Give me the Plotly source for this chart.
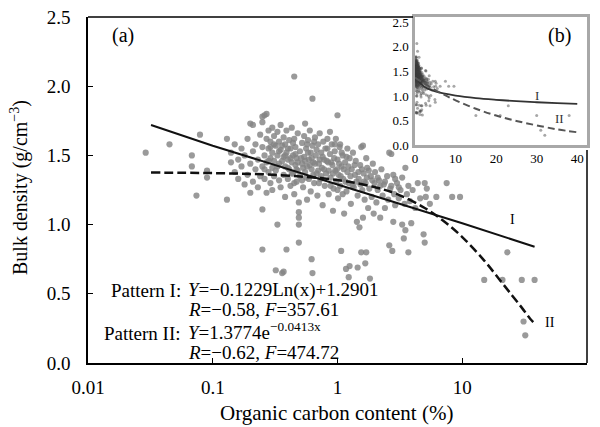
import plotly.graph_objects as go

# ---------------- data ----------------
# (organic carbon %, bulk density g/cm3)
left_pts = [(0.029, 1.52), (0.045, 1.58), (0.068, 1.50), (0.068, 1.42), (0.074, 1.21),
            (0.079, 1.65), (0.09, 1.39), (0.09, 1.34)]

cluster_a = [(0.13, 1.62), (0.13, 1.18), (0.14, 1.45), (0.14, 1.52), (0.15, 1.38), (0.15, 1.58),
             (0.16, 1.47), (0.16, 1.33), (0.17, 1.55), (0.17, 1.42), (0.18, 1.29), (0.18, 1.50),
             (0.19, 1.62), (0.19, 1.36), (0.2, 1.73), (0.2, 1.44), (0.2, 1.23), (0.21, 1.72),
             (0.21, 1.53), (0.21, 1.31), (0.22, 1.58), (0.22, 1.40), (0.23, 1.47), (0.23, 1.27),
             (0.24, 1.65), (0.24, 1.35)]

cluster_b = [(0.25, 1.78), (0.25, 1.74), (0.25, 1.56), (0.25, 1.42), (0.25, 1.11), (0.25, 0.82),
             (0.26, 1.79), (0.26, 1.50), (0.26, 1.33), (0.27, 1.80), (0.27, 1.62), (0.27, 1.45),
             (0.27, 1.23), (0.28, 1.68), (0.28, 1.55), (0.28, 1.38), (0.29, 1.60), (0.29, 1.48),
             (0.29, 1.30), (0.30, 1.70), (0.30, 1.52), (0.30, 1.41), (0.30, 1.25), (0.31, 1.64),
             (0.31, 1.46), (0.31, 1.35), (0.32, 1.57), (0.32, 1.39), (0.32, 0.67), (0.33, 1.67),
             (0.33, 1.50), (0.33, 1.00), (0.34, 1.60), (0.34, 1.44), (0.34, 1.32), (0.35, 1.72),
             (0.35, 1.54), (0.35, 1.27)]

cluster_c = [(0.36, 0.65), (0.37, 1.63), (0.37, 1.49), (0.37, 1.36), (0.37, 0.66), (0.38, 1.58),
             (0.38, 1.42), (0.38, 1.20), (0.39, 1.68), (0.39, 1.52), (0.39, 0.82), (0.40, 1.47),
             (0.40, 1.33), (0.41, 1.61), (0.41, 1.40), (0.42, 1.55), (0.42, 1.28), (0.43, 1.70),
             (0.43, 1.45), (0.44, 1.50), (0.44, 1.37), (0.45, 2.07), (0.45, 1.62), (0.45, 1.22),
             (0.46, 1.56), (0.46, 1.43), (0.47, 1.48), (0.47, 1.31), (0.48, 1.66), (0.48, 1.39),
             (0.49, 1.16), (0.49, 1.09), (0.49, 1.05), (0.49, 1.00), (0.49, 0.87), (0.50, 1.53),
             (0.50, 1.35)]

cluster_d = [(0.52, 1.59), (0.52, 1.44), (0.53, 1.27), (0.54, 1.64), (0.54, 1.49), (0.55, 1.73),
             (0.55, 1.38), (0.56, 1.55), (0.57, 1.42), (0.57, 1.18), (0.58, 1.61), (0.59, 1.47),
             (0.59, 1.33), (0.60, 1.68), (0.61, 1.52), (0.61, 1.24), (0.62, 1.40), (0.62, 0.75),
             (0.63, 1.91), (0.63, 1.57), (0.63, 0.65), (0.64, 1.45), (0.65, 1.30), (0.66, 1.63),
             (0.67, 1.50), (0.68, 1.37), (0.69, 1.21), (0.70, 1.58), (0.71, 1.44), (0.72, 1.66),
             (0.73, 1.33), (0.74, 1.52), (0.75, 1.41), (0.76, 1.14), (0.77, 1.60), (0.78, 1.47),
             (0.79, 1.28)]

cluster_e = [(0.80, 1.55), (0.81, 1.37), (0.83, 1.62), (0.84, 1.45), (0.85, 1.22), (0.87, 1.67),
             (0.87, 1.51), (0.88, 1.34), (0.90, 1.58), (0.91, 1.43), (0.92, 1.10), (0.93, 1.26),
             (0.95, 1.53), (0.96, 1.39), (0.97, 1.62), (0.98, 1.31), (1.00, 1.79), (1.00, 1.47),
             (1.01, 1.19), (1.02, 1.36), (1.04, 1.56), (1.05, 1.58), (1.05, 1.28), (1.07, 0.81),
             (1.08, 1.42), (1.10, 1.50), (1.11, 1.33), (1.13, 1.08), (1.15, 1.45), (1.17, 0.68),
             (1.18, 1.24), (1.20, 1.55), (1.20, 1.38)]

cluster_f = [(1.23, 0.62), (1.23, 1.30), (1.25, 0.70), (1.25, 1.48), (1.28, 1.15), (1.30, 1.40),
             (1.33, 1.52), (1.35, 1.27), (1.38, 1.36), (1.40, 1.46), (1.43, 1.02), (1.45, 0.69),
             (1.45, 1.21), (1.48, 1.33), (1.50, 0.98), (1.52, 1.43), (1.55, 0.80), (1.55, 1.56),
             (1.58, 1.25), (1.60, 1.05), (1.60, 1.57), (1.62, 1.37), (1.65, 1.18), (1.67, 0.72),
             (1.68, 1.30), (1.70, 0.80), (1.70, 1.48), (1.73, 1.41), (1.76, 1.12), (1.80, 1.26),
             (1.82, 0.61), (1.85, 1.35), (1.88, 1.20), (1.92, 1.44), (1.95, 1.08), (1.98, 1.30)]

cluster_g = [(2.0, 1.38), (2.05, 1.16), (2.1, 1.25), (2.15, 1.32), (2.2, 1.05), (2.25, 1.40),
             (2.3, 1.21), (2.35, 1.29), (2.4, 1.12), (2.5, 1.35), (2.55, 1.18), (2.6, 1.52),
             (2.6, 0.85), (2.65, 1.26), (2.7, 1.51), (2.75, 0.81), (2.8, 1.36), (2.8, 1.02),
             (2.85, 1.22), (2.9, 1.14), (3.0, 1.30), (3.1, 1.19), (3.2, 1.25), (3.3, 1.00),
             (3.3, 1.34), (3.4, 0.90), (3.45, 1.15), (3.5, 1.41), (3.5, 0.96)]

cluster_h = [(3.6, 1.22), (3.7, 1.28), (3.7, 0.80), (3.8, 1.17), (3.9, 1.01), (4.0, 1.25),
             (4.2, 1.12), (4.4, 1.30), (4.6, 1.19), (4.9, 0.93), (5.0, 1.30), (5.0, 0.87),
             (5.1, 1.20), (5.2, 1.26), (5.5, 1.15), (6.2, 1.20), (7.5, 1.30), (8.3, 1.20),
             (9.6, 1.20)]

far_pts = [(15, 0.60), (21, 0.60), (23, 0.80), (30, 0.60), (38, 0.60), (31, 0.30), (32, 0.20)]

core_pts = [(0.26, 1.40), (0.28, 1.46), (0.29, 1.56), (0.31, 1.58), (0.33, 1.42), (0.34, 1.53),
            (0.36, 1.46), (0.36, 1.57), (0.38, 1.50), (0.40, 1.55), (0.40, 1.41), (0.42, 1.48),
            (0.43, 1.37), (0.44, 1.59), (0.46, 1.51), (0.47, 1.40), (0.48, 1.45), (0.51, 1.48),
            (0.53, 1.41), (0.55, 1.46), (0.56, 1.34), (0.58, 1.52), (0.60, 1.43), (0.62, 1.48),
            (0.64, 1.36), (0.66, 1.44), (0.68, 1.54), (0.70, 1.39), (0.72, 1.47), (0.74, 1.35),
            (0.76, 1.49), (0.78, 1.40), (0.82, 1.46), (0.85, 1.39), (0.89, 1.45), (0.92, 1.37),
            (0.94, 1.48), (0.99, 1.40), (1.03, 1.44), (1.06, 1.35), (1.12, 1.40), (1.16, 1.31),
            (1.22, 1.42), (1.27, 1.35), (1.32, 1.28), (1.37, 1.43), (1.42, 1.31), (1.47, 1.38),
            (1.53, 1.29), (1.57, 1.40), (1.63, 1.31), (1.72, 1.34), (1.78, 1.39), (1.9, 1.32),
            (2.1, 1.34), (2.2, 1.28), (2.4, 1.31), (2.7, 1.28), (2.9, 1.33), (3.1, 1.27),
            (0.57, 1.58), (0.65, 1.60), (0.83, 1.55), (0.95, 1.58), (1.08, 1.52), (1.18, 1.49),
            (0.45, 1.30), (0.52, 1.32), (0.71, 1.30), (0.88, 1.28), (1.0, 1.25), (1.1, 1.22)]

# fitted curves, points
fit1_x = [0.032, 0.1, 1, 10, 38]
fit1_y = [1.72, 1.57, 1.29, 1.01, 0.84]
fit2_x = [0.032, 0.1, 0.3, 1, 2, 3, 5, 7, 10, 15, 20, 25, 30, 35, 39]
fit2_y = [1.376, 1.372, 1.36, 1.322, 1.27, 1.22, 1.12, 1.03, 0.91, 0.74, 0.60, 0.49, 0.40, 0.32, 0.275]
ins1_x = [0.5, 1, 2, 3, 5, 7, 10, 15, 20, 25, 30, 35, 40]
ins1_y = [1.375, 1.29, 1.205, 1.155, 1.092, 1.051, 1.007, 0.957, 0.922, 0.894, 0.872, 0.853, 0.837]
ins2_x = [0, 2, 5, 8, 10, 15, 20, 25, 30, 35, 40]
ins2_y = [1.377, 1.27, 1.12, 0.99, 0.91, 0.74, 0.60, 0.49, 0.40, 0.32, 0.26]

x_ticks = [0.01, 0.1, 1, 10, 100]
x_ticktext = ["0.01", "0.1", "1", "10", "100"]
y_ticks = [0.0, 0.5, 1.0, 1.5, 2.0, 2.5]
inset_xticks = [0, 10, 20, 30, 40]

all_pts = (left_pts + cluster_a + cluster_b + cluster_c + cluster_d + cluster_e +
           cluster_f + cluster_g + cluster_h + far_pts + core_pts)
oc = [p[0] for p in all_pts]
bd = [p[1] for p in all_pts]

# ---------------- layout helpers ----------------
L, R, T, B = 88, 587, 17, 363
def pxx(v): return min(1.0, max(0.0, (v - L) / (R - L)))
def pxy(v): return min(1.0, max(0.0, (B - v) / (B - T)))
def ax_x(v): return (v - L) / (R - L)
def ax_y(v): return (B - v) / (B - T)

FONT = "Liberation Serif"

fig = go.Figure()
fig.add_trace(go.Scatter(x=oc, y=bd, mode="markers",
                         marker=dict(size=6.2, color="rgba(132,132,132,0.82)", line=dict(width=0)),
                         xaxis="x", yaxis="y", showlegend=False))
fig.add_trace(go.Scatter(x=fit1_x, y=fit1_y, mode="lines", line=dict(color="#111", width=2),
                         xaxis="x", yaxis="y", showlegend=False))
fig.add_trace(go.Scatter(x=fit2_x, y=fit2_y, mode="lines", line_shape="spline",
                         line=dict(color="#111", width=2.5, dash="9px,4px"),
                         xaxis="x", yaxis="y", showlegend=False))

# inset
fig.add_trace(go.Scatter(x=oc, y=bd, mode="markers",
                         marker=dict(size=3, color="rgba(60,60,60,0.45)", line=dict(width=0)),
                         xaxis="x2", yaxis="y2", showlegend=False, cliponaxis=True))
fig.add_trace(go.Scatter(x=ins1_x, y=ins1_y, mode="lines", line_shape="spline",
                         line=dict(color="#333", width=1.8),
                         xaxis="x2", yaxis="y2", showlegend=False))
fig.add_trace(go.Scatter(x=ins2_x, y=ins2_y, mode="lines", line_shape="spline",
                         line=dict(color="#555", width=2, dash="7px,4px"),
                         xaxis="x2", yaxis="y2", showlegend=False))

fig.update_layout(
    width=600, height=427,
    margin=dict(l=L, r=600 - R, t=T, b=427 - B, autoexpand=False),
    paper_bgcolor="white", plot_bgcolor="white",
    font=dict(family=FONT, size=19, color="black"),
    hovermode=False,
    xaxis=dict(type="log", range=[-2, 2], tickvals=x_ticks, ticktext=x_ticktext,
               showgrid=False, zeroline=False, showline=True, linecolor="black", linewidth=1.5,
               ticks="inside", ticklen=5, tickcolor="black", tickwidth=1.2,
               ticklabelstandoff=6, automargin=False,
               tickfont=dict(size=19), domain=[0, 1], anchor="y"),
    yaxis=dict(range=[0, 2.5], tickvals=y_ticks, tickformat=".1f",
               showgrid=False, zeroline=False, showline=True, linecolor="black", linewidth=1.5,
               ticks="inside", ticklen=5, tickcolor="black", tickwidth=1.2,
               ticklabelstandoff=12, automargin=False,
               tickfont=dict(size=19), domain=[0, 1], anchor="x"),
    xaxis2=dict(domain=[pxx(415), 1.0], anchor="y2", range=[0, 42.4], tickvals=inset_xticks,
                showgrid=False, zeroline=False, showline=True, mirror=True,
                linecolor="#a8a8a8", linewidth=2.5, ticks="", ticklabelstandoff=0,
                automargin=False, tickfont=dict(size=13)),
    yaxis2=dict(domain=[pxy(145), 1.0], anchor="x2", range=[0, 2.61], tickvals=y_ticks,
                tickformat=".1f", showgrid=False, zeroline=False, showline=True, mirror=True,
                linecolor="#a8a8a8", linewidth=2.5, ticks="", ticklabelstandoff=1,
                automargin=False, tickfont=dict(size=13)),
)

# main frame: top and right borders (partly hidden behind the inset)
fig.add_shape(type="line", xref="paper", yref="paper", x0=0, x1=pxx(413), y0=1, y1=1,
              line=dict(color="black", width=1.5))
fig.add_shape(type="line", xref="paper", yref="paper", x0=1, x1=1, y0=0, y1=pxy(150),
              line=dict(color="black", width=1.5))

def ann(text, x, y, size=19, xanchor="left", angle=0):
    fig.add_annotation(text=text, xref="paper", yref="paper", x=ax_x(x), y=ax_y(y),
                       xanchor=xanchor, yanchor="middle", showarrow=False, textangle=angle,
                       font=dict(family=FONT, size=size, color="black"))

# axis titles
ann("Organic carbon content (%)", 336, 413, 21, "center")
ann("Bulk density (g/cm<sup>−3</sup>)", 20, 188, 20, "center", -90)

ann("(a)", 110, 36, 20)
ann("(b)", 546, 36, 20)
ann("I", 508, 219, 14)
ann("II", 543, 322, 14)
ann("Pattern I:", 183, 290, 19, "right")
ann("<i>Y</i>=−0.1229Ln(x)+1.2901", 186, 290, 19)
ann("<i>R</i>=−0.58, <i>F</i>=357.61", 186, 309, 19)
ann("Pattern II:", 183, 333, 19, "right")
ann("<i>Y</i>=1.3774e<sup>−0.0413x</sup>", 186, 331, 19)
ann("<i>R</i>=−0.62, <i>F</i>=474.72", 186, 352, 19)

# inset curve labels
fig.add_annotation(text="I", xref="x2", yref="y2", x=30, y=1.0, showarrow=False,
                   font=dict(family=FONT, size=13, color="#333"))
fig.add_annotation(text="II", xref="x2", yref="y2", x=35.5, y=0.55, showarrow=False,
                   font=dict(family=FONT, size=13, color="#333"))

fig.write_html("out.html", config={"displayModeBar": False},
               post_script="document.body.style.margin='0px';")
